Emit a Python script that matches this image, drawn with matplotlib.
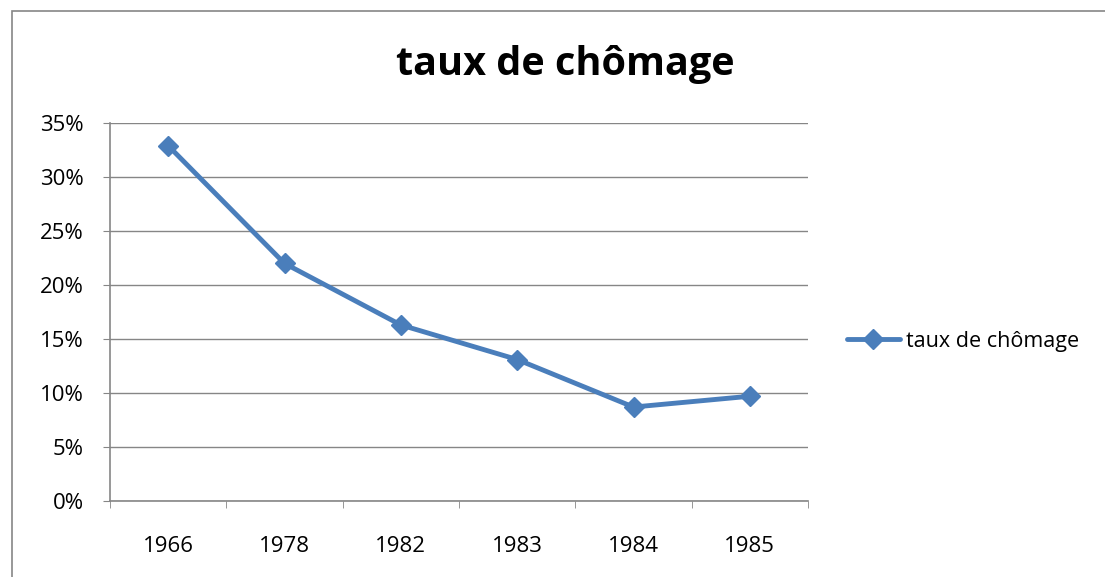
import matplotlib
matplotlib.use("Agg")
import matplotlib.pyplot as plt
from matplotlib.patches import Rectangle
from matplotlib.ticker import FixedLocator, FuncFormatter

years = ["1966", "1978", "1982", "1983", "1984", "1985"]
rates = [0.329, 0.220, 0.163, 0.131, 0.087, 0.097]
yticks = [0, 0.05, 0.10, 0.15, 0.20, 0.25, 0.30, 0.35]
series_name = "taux de chômage"
title = "taux de chômage"

plt.rcParams['font.family'] = ['Open Sans', 'DejaVu Sans']

W, H = 1105, 577
fig = plt.figure(figsize=(W / 100, H / 100), dpi=100)
fig.patch.set_facecolor("white")

# chart border
fig.patches.append(Rectangle((12 / W, -0.1), 1.2, (H - 11) / H + 0.1,
                             transform=fig.transFigure, fill=False,
                             edgecolor="#868686", linewidth=1.2))

ax = fig.add_axes([110 / W, 76 / H, 698 / W, 378 / H])
grid_c = "#868686"
x = list(range(len(years)))
ax.plot(x, rates, color="#4A7EBB", linewidth=3.5, marker="D", markersize=10.5,
        markeredgecolor="#4A7EBB", markerfacecolor="#4A7EBB", label=series_name,
        solid_capstyle="round", zorder=3)

ax.set_xlim(-0.5, len(years) - 0.5)
ax.set_ylim(0, 0.35)
ax.set_yticks(yticks)
ax.yaxis.set_major_formatter(FuncFormatter(lambda v, p: f"{round(v * 100)}%"))
ax.set_xticks(x)
ax.set_xticklabels(years)
ax.xaxis.set_minor_locator(FixedLocator([i - 0.5 for i in range(len(years) + 1)]))

ax.grid(axis="y", color=grid_c, linewidth=1)
ax.set_axisbelow(True)
for s in ["top", "right"]:
    ax.spines[s].set_visible(False)
for s in ["left", "bottom"]:
    ax.spines[s].set_color(grid_c)
    ax.spines[s].set_linewidth(1.2)

ax.tick_params(axis="y", length=5, color=grid_c, pad=14, labelsize=16)
ax.tick_params(axis="x", which="major", length=0, pad=25, labelsize=16)
ax.tick_params(axis="x", which="minor", length=5, color=grid_c)

fig.text(565 / W, (H - 65) / H, title, ha="center", va="center",
         fontsize=28.5, fontweight="bold")

leg = fig.legend(loc="center left", bbox_to_anchor=(847 / W, (H - 341) / H),
                 frameon=False, fontsize=15.5, handlelength=2.45, handletextpad=0.3,
                 borderaxespad=0, borderpad=0)

fig.savefig("out.png", dpi=100, facecolor="white")
